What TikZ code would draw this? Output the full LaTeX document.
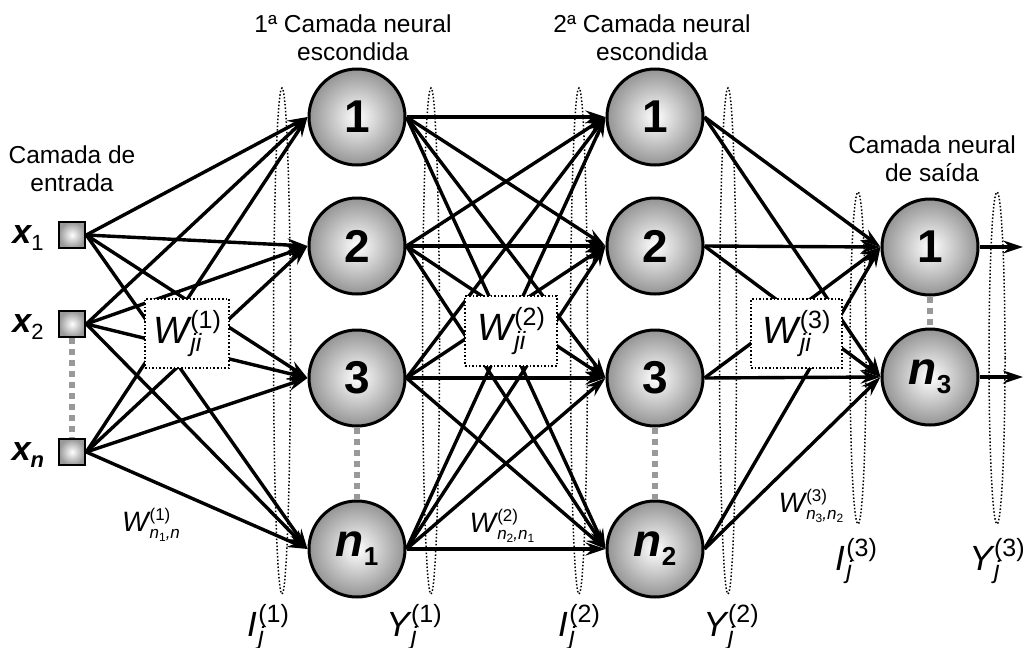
\documentclass[tikz,border=0pt]{standalone}
\usepackage{fontspec}
\setmainfont{Liberation Sans}
\usetikzlibrary{arrows.meta}
% manual sub/superscripts
\newcommand{\WSS}[5]{{#1}\begingroup
  \setbox0=\hbox{\fontsize{#2}{#2}\selectfont #3}%
  \setbox2=\hbox{\fontsize{#4}{#4}\selectfont #5}%
  \ifdim\wd0>\wd2 \dimen0=\wd0 \else \dimen0=\wd2 \fi
  \kern0.04em\rlap{\raise .40em\box0}\rlap{\lower .22em\box2}\kern\dimen0\endgroup}
\newcommand{\LowSub}[2]{\lower .2em\hbox{\fontsize{#1}{#1}\selectfont #2}}
\tikzset{
  neuron/.style={circle, draw=black, line width=3pt, minimum size=96pt, inner sep=0pt,
    shading=radial, inner color=white, outer color=black!42,
    font=\fontsize{46}{46}\selectfont\bfseries},
  inp/.style={rectangle, draw=black, line width=2.6pt, minimum size=26pt, inner sep=0pt,
    shading=radial, inner color=white, outer color=black!40},
  conn/.style={line width=3.4pt, -{Stealth[length=20pt,width=13pt,inset=7pt]}},
  wbox/.style={draw=black, dotted, line width=1.6pt, fill=white, inner sep=0pt,
    font=\fontsize{38}{38}\selectfont},
  gdots/.style={draw=black!40, line width=6.5pt, dash pattern=on 6pt off 5pt},
  dell/.style={draw=black, dotted, line width=1.5pt},
  heading/.style={align=center, inner sep=0pt, font=\fontsize{24.5}{28}\selectfont},
  xlab/.style={inner sep=0pt, font=\fontsize{34}{34}\selectfont\bfseries\itshape},
  wlab/.style={inner sep=0pt, font=\fontsize{28}{28}\selectfont},
  blab/.style={inner sep=0pt, font=\fontsize{35}{35}\selectfont},
}
\begin{document}
\begin{tikzpicture}[x=1pt,y=-1pt]
\useasboundingbox (0,0) rectangle (1023,648);
% dotted ellipses
\foreach \xx in {282,431,579,728} \draw[dell] (\xx,341) ellipse [x radius=8.5, y radius=253];
\foreach \xx in {858,997} \draw[dell] (\xx,358) ellipse [x radius=8, y radius=166];
% headings
\node[heading] (h0) at (72,169) {Camada de\\entrada};
\node[heading] (h1) at (353,38) {1ª Camada neural\\escondida};
\node[heading] (h2) at (652,38) {2ª Camada neural\\escondida};
\node[heading] (h3) at (932,159) {Camada neural\\de saída};
% inputs
\node[inp] (x1) at (72,235) {};
\node[inp] (x2) at (72,324) {};
\node[inp] (xn) at (72,452) {};
\node[xlab] (lx1) at (28,238) {x\LowSub{22}{\upshape\mdseries 1}};
\node[xlab] (lx2) at (28,327) {x\LowSub{22}{\upshape\mdseries 2}};
\node[xlab] (lxn) at (28,455) {x\LowSub{22}{n}};
% hidden layer 1
\node[neuron] (a1) at (357,117) {1};
\node[neuron] (a2) at (357,246) {2};
\node[neuron] (a3) at (357,378) {3};
\node[neuron] (a4) at (357,549) {\itshape n\LowSub{26}{\upshape 1}};
% hidden layer 2
\node[neuron] (b1) at (655,117) {1};
\node[neuron] (b2) at (655,246) {2};
\node[neuron] (b3) at (655,378) {3};
\node[neuron] (b4) at (655,549) {\itshape n\LowSub{26}{\upshape 2}};
% output layer
\node[neuron] (c1) at (930,247) {1};
\node[neuron] (c2) at (930,377) {\itshape n\LowSub{26}{\upshape 3}};
\coordinate (o1) at (1023,247);
\coordinate (o2) at (1023,377);
% connections: from east point of source to west point of target
\foreach \s in {x1,x2,xn}{\foreach \t in {a1,a2,a3,a4}{\draw[conn] (\s.east) -- (\t.west);}}
\foreach \s in {a1,a2,a3,a4}{\foreach \t in {b1,b2,b3,b4}{\draw[conn] (\s.east) -- (\t.west);}}
\foreach \s in {b1,b2,b3,b4}{\foreach \t in {c1,c2}{\draw[conn] (\s.east) -- (\t.west);}}
\draw[conn] (c1.east) -- (o1);
\draw[conn] (c2.east) -- (o2);
% weight boxes
\node[wbox, minimum width=84pt, minimum height=69pt] (w1) at (187,333.5)
  {\WSS{\itshape W}{25}{(1)}{25}{\itshape ji}};
\node[wbox, minimum width=92pt, minimum height=70pt] (w2) at (511,331)
  {\WSS{\itshape W}{25}{(2)}{25}{\itshape ji}};
\node[wbox, minimum width=91pt, minimum height=69pt] (w3) at (796.5,333.5)
  {\WSS{\itshape W}{25}{(3)}{25}{\itshape ji}};
% gray dotted continuation lines
\draw[gdots] (x2.south) -- (xn.north);
\draw[gdots] (a3.south) -- (a4.north);
\draw[gdots] (b3.south) -- (b4.north);
\draw[gdots] (c1.south) -- (c2.north);
% weight labels
\node[wlab] (lw1) at (151,525) {\WSS{\itshape W}{17}{(1)}{17}{\itshape n\LowSub{12}{\upshape 1},n}};
\node[wlab] (lw2) at (502,526) {\WSS{\itshape W}{17}{(2)}{17}{\itshape n\LowSub{12}{\upshape 2},n\LowSub{12}{\upshape 1}}};
\node[wlab] (lw3) at (811,506) {\WSS{\itshape W}{17}{(3)}{17}{\itshape n\LowSub{12}{\upshape 3},n\LowSub{12}{\upshape 2}}};
% bottom labels
\node[blab] (li1) at (268,627) {\WSS{\itshape I}{25}{(1)}{25}{\itshape j}};
\node[blab] (ly1) at (414,627) {\WSS{\itshape Y}{25}{(1)}{25}{\itshape j}};
\node[blab] (li2) at (579,627) {\WSS{\itshape I}{25}{(2)}{25}{\itshape j}};
\node[blab] (ly2) at (731,627) {\WSS{\itshape Y}{25}{(2)}{25}{\itshape j}};
\node[blab] (li3) at (856,561) {\WSS{\itshape I}{25}{(3)}{25}{\itshape j}};
\node[blab] (ly3) at (997,561) {\WSS{\itshape Y}{25}{(3)}{25}{\itshape j}};
\end{tikzpicture}
\end{document}
